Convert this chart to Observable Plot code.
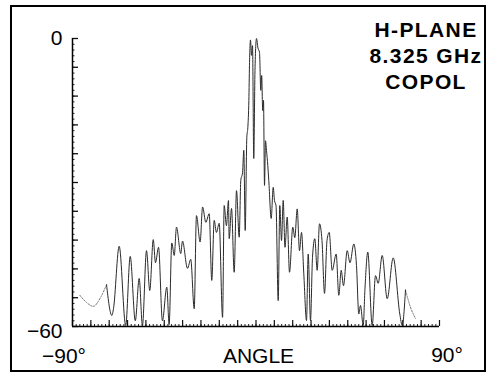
<!DOCTYPE html>
<html>
<head>
<meta charset="utf-8">
<script src="https://cdn.jsdelivr.net/npm/d3@7"></script>
<script src="https://cdn.jsdelivr.net/npm/@observablehq/plot@0.6"></script>
<style>
  body { margin: 0; background: #fff; }
  #chart { position: relative; width: 487px; height: 374px; overflow: hidden; }
  #frame { position: absolute; left: 10px; top: 5px; width: 476px; height: 367px;
           border: 2.5px solid #000; box-sizing: border-box; pointer-events: none; }
</style>
</head>
<body>
<div id="chart"><div id="frame"></div></div>
<script>
// Measured antenna pattern (angle in degrees, level in dB)
const angleDeg = [
  -86.4, -83.1, -79.8, -76.3, -73.3, -70.7, -69.9, -67.1, -63.9, -61.7,
  -59.2, -57.3, -55.7, -53.7, -52.1, -50.4, -49.3, -47.8, -45.9, -43.75,
  -42.6, -41.3, -40.1, -39.0, -36.9, -36.05, -33.6, -32.0, -30.3, -29.2,
  -27.4, -26.2, -24.6, -22.95, -21.7, -20.5, -19.4, -18.05, -16.4, -15.6,
  -14.5, -13.5, -13.15, -12.0, -10.7, -9.56, -8.24, -7.46, -6.6, -5.98,
  -5.3, -4.5, -4.0, -3.5, -3.2, -2.7, -2.2, -1.7, -1.1, -0.5,
  0.24, 0.98, 1.72, 2.35, 2.79, 3.29, 3.68, 4.17, 4.66, 5.15,
  5.79, 6.28, 7.45, 8.44, 9.07, 9.81, 10.89, 11.67, 12.51, 13.34,
  14.22, 15.3, 16.43, 18.05, 19.03, 20.21, 21.33, 22.32, 23.44, 24.77,
  25.6, 26.73, 27.71, 28.84, 30.01, 31.14, 32.37, 33.6, 34.82, 35.9,
  37.37, 39.33, 40.61, 41.79, 42.91, 44.73, 46.1, 47.97, 49.29, 50.42,
  51.25, 52.58, 53.46, 54.83, 56.99, 58.61, 59.93, 61.89, 64.35, 67.29,
  70.53, 71.7, 73.32, 75.77, 78.23
];
const levelDb = [
  -53.5, -55.0, -55.8, -54.0, -51.3, -57.7, -56.3, -43.3, -59.8, -45.4,
  -58.8, -50.0, -59.8, -44.2, -52.5, -41.9, -46.7, -43.5, -58.8, -51.8,
  -59.6, -42.6, -45.2, -39.3, -44.8, -42.2, -47.9, -46.0, -56.3, -36.9,
  -42.4, -35.1, -38.3, -36.5, -50.4, -37.9, -40.4, -38.5, -58.1, -34.8,
  -39.0, -33.75, -41.7, -35.4, -48.7, -31.7, -41.4, -29.6, -27.9, -23.3,
  -40.0, -20.6, -18.5, -12.9, -5.6, -0.3, -3.5, -1.5, -25.0, -6.7,
  0.0, -2.0, -2.9, -10.8, -7.7, -15.0, -12.9, -30.6, -21.3, -23.3,
  -26.5, -29.6, -37.5, -31.0, -33.75, -34.8, -54.6, -34.8, -42.1, -33.75,
  -43.5, -37.2, -48.7, -39.3, -41.5, -35.5, -44.2, -40.4, -49.0, -58.75,
  -44.9, -58.75, -45.6, -41.7, -48.3, -38.6, -42.1, -53.1, -42.1, -40.4,
  -48.3, -44.9, -53.5, -48.3, -51.5, -44.2, -46.7, -42.8, -47.3, -57.4,
  -55.6, -59.8, -52.0, -44.5, -59.8, -49.4, -51.0, -45.2, -54.2, -45.7,
  -57.4, -59.8, -52.4, -56.0, -58.3
];
const leftTailPoints = 5;   // faint dotted start of the trace
const rightTailPoints = 3;  // faint dotted end of the trace

const yMajorTicks = d3.range(0, -60.01, -6);
const yMinorTicks = d3.range(0, -60.01, -1.2);
const xMajorTicks = d3.range(-90, 90.01, 9);
const xMinorTicks = d3.range(-90, 90.01, 1.8);
const yTickValues = [0, -60];
const yTickText = ["0", "\u221260"];
const xTickValues = [-90, 90];
const xTickText = ["\u221290\u00b0", "90\u00b0"];
const xAxisTitle = "ANGLE";
const titleLines = ["H-PLANE", "8.325 GHz", "COPOL"];

const points = angleDeg.map((a, i) => ({a, v: levelDb[i]}));
const leftTail = points.slice(0, leftTailPoints);
const rightTail = points.slice(points.length - rightTailPoints);
const body = points.slice(leftTailPoints - 1, points.length - rightTailPoints + 1);

const font = "'Liberation Sans', Arial, Helvetica, sans-serif";

const chart = Plot.plot({
  width: 487,
  height: 374,
  marginLeft: 72,
  marginRight: 48,
  marginTop: 38,
  marginBottom: 48,
  x: {domain: [-90, 90], axis: null},
  y: {domain: [-60, 0], axis: null},
  style: {fontFamily: font, fontSize: "21px", background: "transparent", color: "#000", overflow: "visible"},
  marks: [
    // inward ticks on the left axis
    Plot.ruleY(yMinorTicks, {x1: -90, x2: -90, insetRight: -2.5, stroke: "#222", strokeWidth: 1}),
    Plot.ruleY(yMajorTicks, {x1: -90, x2: -90, insetRight: -6, stroke: "#111", strokeWidth: 1.3}),
    // inward ticks on the bottom axis
    Plot.ruleX(xMinorTicks, {y1: -60, y2: -60, insetTop: -2, stroke: "#222", strokeWidth: 1}),
    Plot.ruleX(xMajorTicks, {y1: -60, y2: -60, insetTop: -6, stroke: "#111", strokeWidth: 1.2}),
    // axis lines
    Plot.ruleX([-90], {y1: -60, y2: 0, stroke: "#000", strokeWidth: 1.5}),
    Plot.ruleY([-60], {x1: -90, x2: 90, stroke: "#000", strokeWidth: 1.5}),
    // pattern trace
    Plot.line(leftTail, {x: "a", y: "v", curve: "monotone-x", stroke: "#777", strokeWidth: 1, strokeDasharray: "1.5,1.5"}),
    Plot.line(rightTail, {x: "a", y: "v", curve: "monotone-x", stroke: "#777", strokeWidth: 1, strokeDasharray: "1.5,1.5"}),
    Plot.line(body, {x: "a", y: "v", curve: "monotone-x", stroke: "#2a2a2a", strokeWidth: 1, clip: true}),
    // tick labels
    Plot.text([yTickText[0]], {x: -90, y: yTickValues[0], dx: -10, textAnchor: "end", fill: "#000"}),
    Plot.text([yTickText[1]], {x: -90, y: yTickValues[1], dx: -10, dy: 5, textAnchor: "end", fill: "#000"}),
    Plot.text([xTickText[0]], {x: xTickValues[0], y: -60, dx: -8.5, dy: 30, fill: "#000"}),
    Plot.text([xTickText[1]], {x: xTickValues[1], y: -60, dx: 7.5, dy: 29, fill: "#000"}),
    Plot.text([xAxisTitle], {x: 0, y: -60, dx: 2.5, dy: 30, fill: "#000"}),
    // title block
    Plot.text([titleLines.join("\n")], {frameAnchor: "top-right", dx: -13.5, dy: -20, lineAnchor: "top",
      lineHeight: 1.24, textAnchor: "middle", fontWeight: "bold", fill: "#000"})
  ]
});

d3.select(chart).selectAll("text")
  .filter(function() { return this.textContent.startsWith(titleLines[0]); })
  .attr("letter-spacing", "1.4");

document.getElementById("chart").prepend(chart);
</script>
</body>
</html>
